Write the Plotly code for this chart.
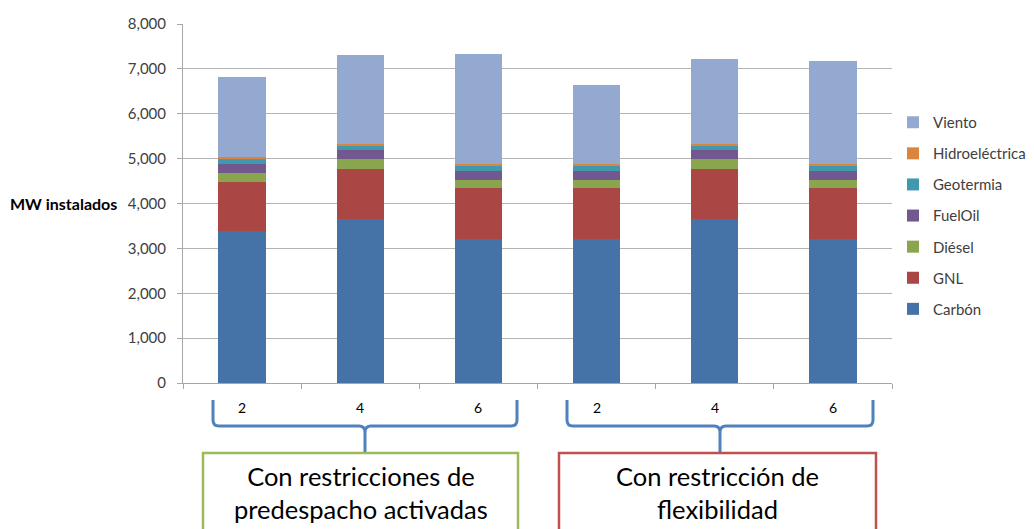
import plotly.graph_objects as go

# Installed capacity (MW) per scenario, stacked by technology
tick_labels = ["2", "4", "6", "2", "4", "6"]
carbon = [3380, 3660, 3210, 3210, 3660, 3210]
gnl = [1100, 1115, 1130, 1130, 1115, 1130]
diesel = [200, 210, 185, 185, 210, 185]
fueloil = [210, 210, 210, 210, 210, 210]
geotermia = [115, 100, 110, 110, 100, 110]
hidro = [25, 30, 30, 30, 30, 30]
viento = [1790, 1990, 2465, 1775, 1900, 2310]

series = [
    ("Carbón", carbon, "#4572A7"),
    ("GNL", gnl, "#AA4643"),
    ("Diésel", diesel, "#89A54E"),
    ("FuelOil", fueloil, "#71588F"),
    ("Geotermia", geotermia, "#4198AF"),
    ("Hidroeléctrica", hidro, "#DB843D"),
    ("Viento", viento, "#93A9CF"),
]

group_titles = ["Con restricciones de<br>predespacho activadas",
                "Con restricción de<br>flexibilidad"]

W, H = 1034, 529
L, R, T, B = 183, 892, 24, 383
FONT = "Lato, 'Open Sans', sans-serif"

xs = list(range(len(tick_labels)))

fig = go.Figure()
n = len(series)
for i, (name, vals, color) in enumerate(series):
    fig.add_trace(go.Bar(
        x=xs, y=vals, name=name, legendgroup=name, legendrank=n - i,
        marker=dict(color=color, line=dict(width=0)),
        width=0.4,
    ))


def px(x):
    return (x - L) / (R - L)


def py(y):
    return (B - y) / (B - T)


def brace(x0, x1, y_top=400, y_bar=426, y_tip=452, r=6):
    xc = (x0 + x1) / 2
    pts = [
        f"M{px(x0)},{py(y_top)}",
        f"L{px(x0)},{py(y_bar - r)}",
        f"Q{px(x0)},{py(y_bar)} {px(x0 + r)},{py(y_bar)}",
        f"L{px(xc - r)},{py(y_bar)}",
        f"Q{px(xc)},{py(y_bar)} {px(xc)},{py(y_bar + r)}",
        f"L{px(xc)},{py(y_tip)}",
        f"M{px(xc)},{py(y_bar + r)}",
        f"Q{px(xc)},{py(y_bar)} {px(xc + r)},{py(y_bar)}",
        f"L{px(x1 - r)},{py(y_bar)}",
        f"Q{px(x1)},{py(y_bar)} {px(x1)},{py(y_bar - r)}",
        f"L{px(x1)},{py(y_top)}",
    ]
    return " ".join(pts)


shapes = []
for x0, x1 in [(213, 517), (567, 873)]:
    shapes.append(dict(type="path", xref="paper", yref="paper",
                       path=brace(x0, x1),
                       line=dict(color="#4F81BD", width=3)))

boxes = [(203, 518, "#9BBB59"), (559, 876, "#C0504D")]
for (x0, x1, c) in boxes:
    shapes.append(dict(type="rect", xref="paper", yref="paper",
                       x0=px(x0), x1=px(x1), y0=py(453), y1=py(545),
                       line=dict(color=c, width=2.5), fillcolor="white"))

annotations = []
for i, lab in enumerate(tick_labels):
    annotations.append(dict(x=i, y=py(407), xref="x", yref="paper",
                            xanchor="center", yanchor="middle",
                            text=lab, showarrow=False,
                            font=dict(family=FONT, size=14, color="#000000")))

for (x0, x1, c), txt in zip(boxes, group_titles):
    annotations.append(dict(x=px((x0 + x1) / 2), y=py(492), xref="paper", yref="paper",
                            xanchor="center", yanchor="middle",
                            text=txt, showarrow=False, align="center",
                            font=dict(family=FONT, size=25.5, color="#000000")))

annotations.append(dict(x=px(119), y=4000, xref="paper", yref="y",
                        text="<b>MW instalados</b>", showarrow=False,
                        xanchor="right", yanchor="middle",
                        font=dict(family=FONT, size=16, color="#000000")))

fig.update_layout(
    width=W, height=H,
    margin=dict(l=L, r=W - R, t=T, b=H - B, autoexpand=False),
    barmode="stack",
    plot_bgcolor="white", paper_bgcolor="white",
    font=dict(family=FONT, size=14, color="#404040"),
    showlegend=True,
    legend=dict(x=px(893), y=py(106), xanchor="left", yanchor="top",
                traceorder="grouped", tracegroupgap=8.6,
                font=dict(family=FONT, size=15, color="#404040"),
                itemwidth=30),
    xaxis=dict(range=[-0.5, 5.5], tickmode="array",
               tickvals=[i - 0.5 for i in range(len(tick_labels) + 1)],
               showticklabels=False, ticks="outside", ticklen=5,
               tickcolor="#A6A6A6", showline=True, linecolor="#A6A6A6",
               linewidth=1, showgrid=False, zeroline=False, fixedrange=True),
    yaxis=dict(range=[0, 8000], dtick=1000, tickformat=",",
               ticks="outside", ticklen=5, tickcolor="#A6A6A6",
               showline=True, linecolor="#A6A6A6", linewidth=1,
               showgrid=True, gridcolor="#B3B3B3", gridwidth=1,
               zeroline=False, ticklabelstandoff=8,
               tickfont=dict(family=FONT, size=15, color="#404040")),
    shapes=shapes,
    annotations=annotations,
)

fig.write_html("out.html")
